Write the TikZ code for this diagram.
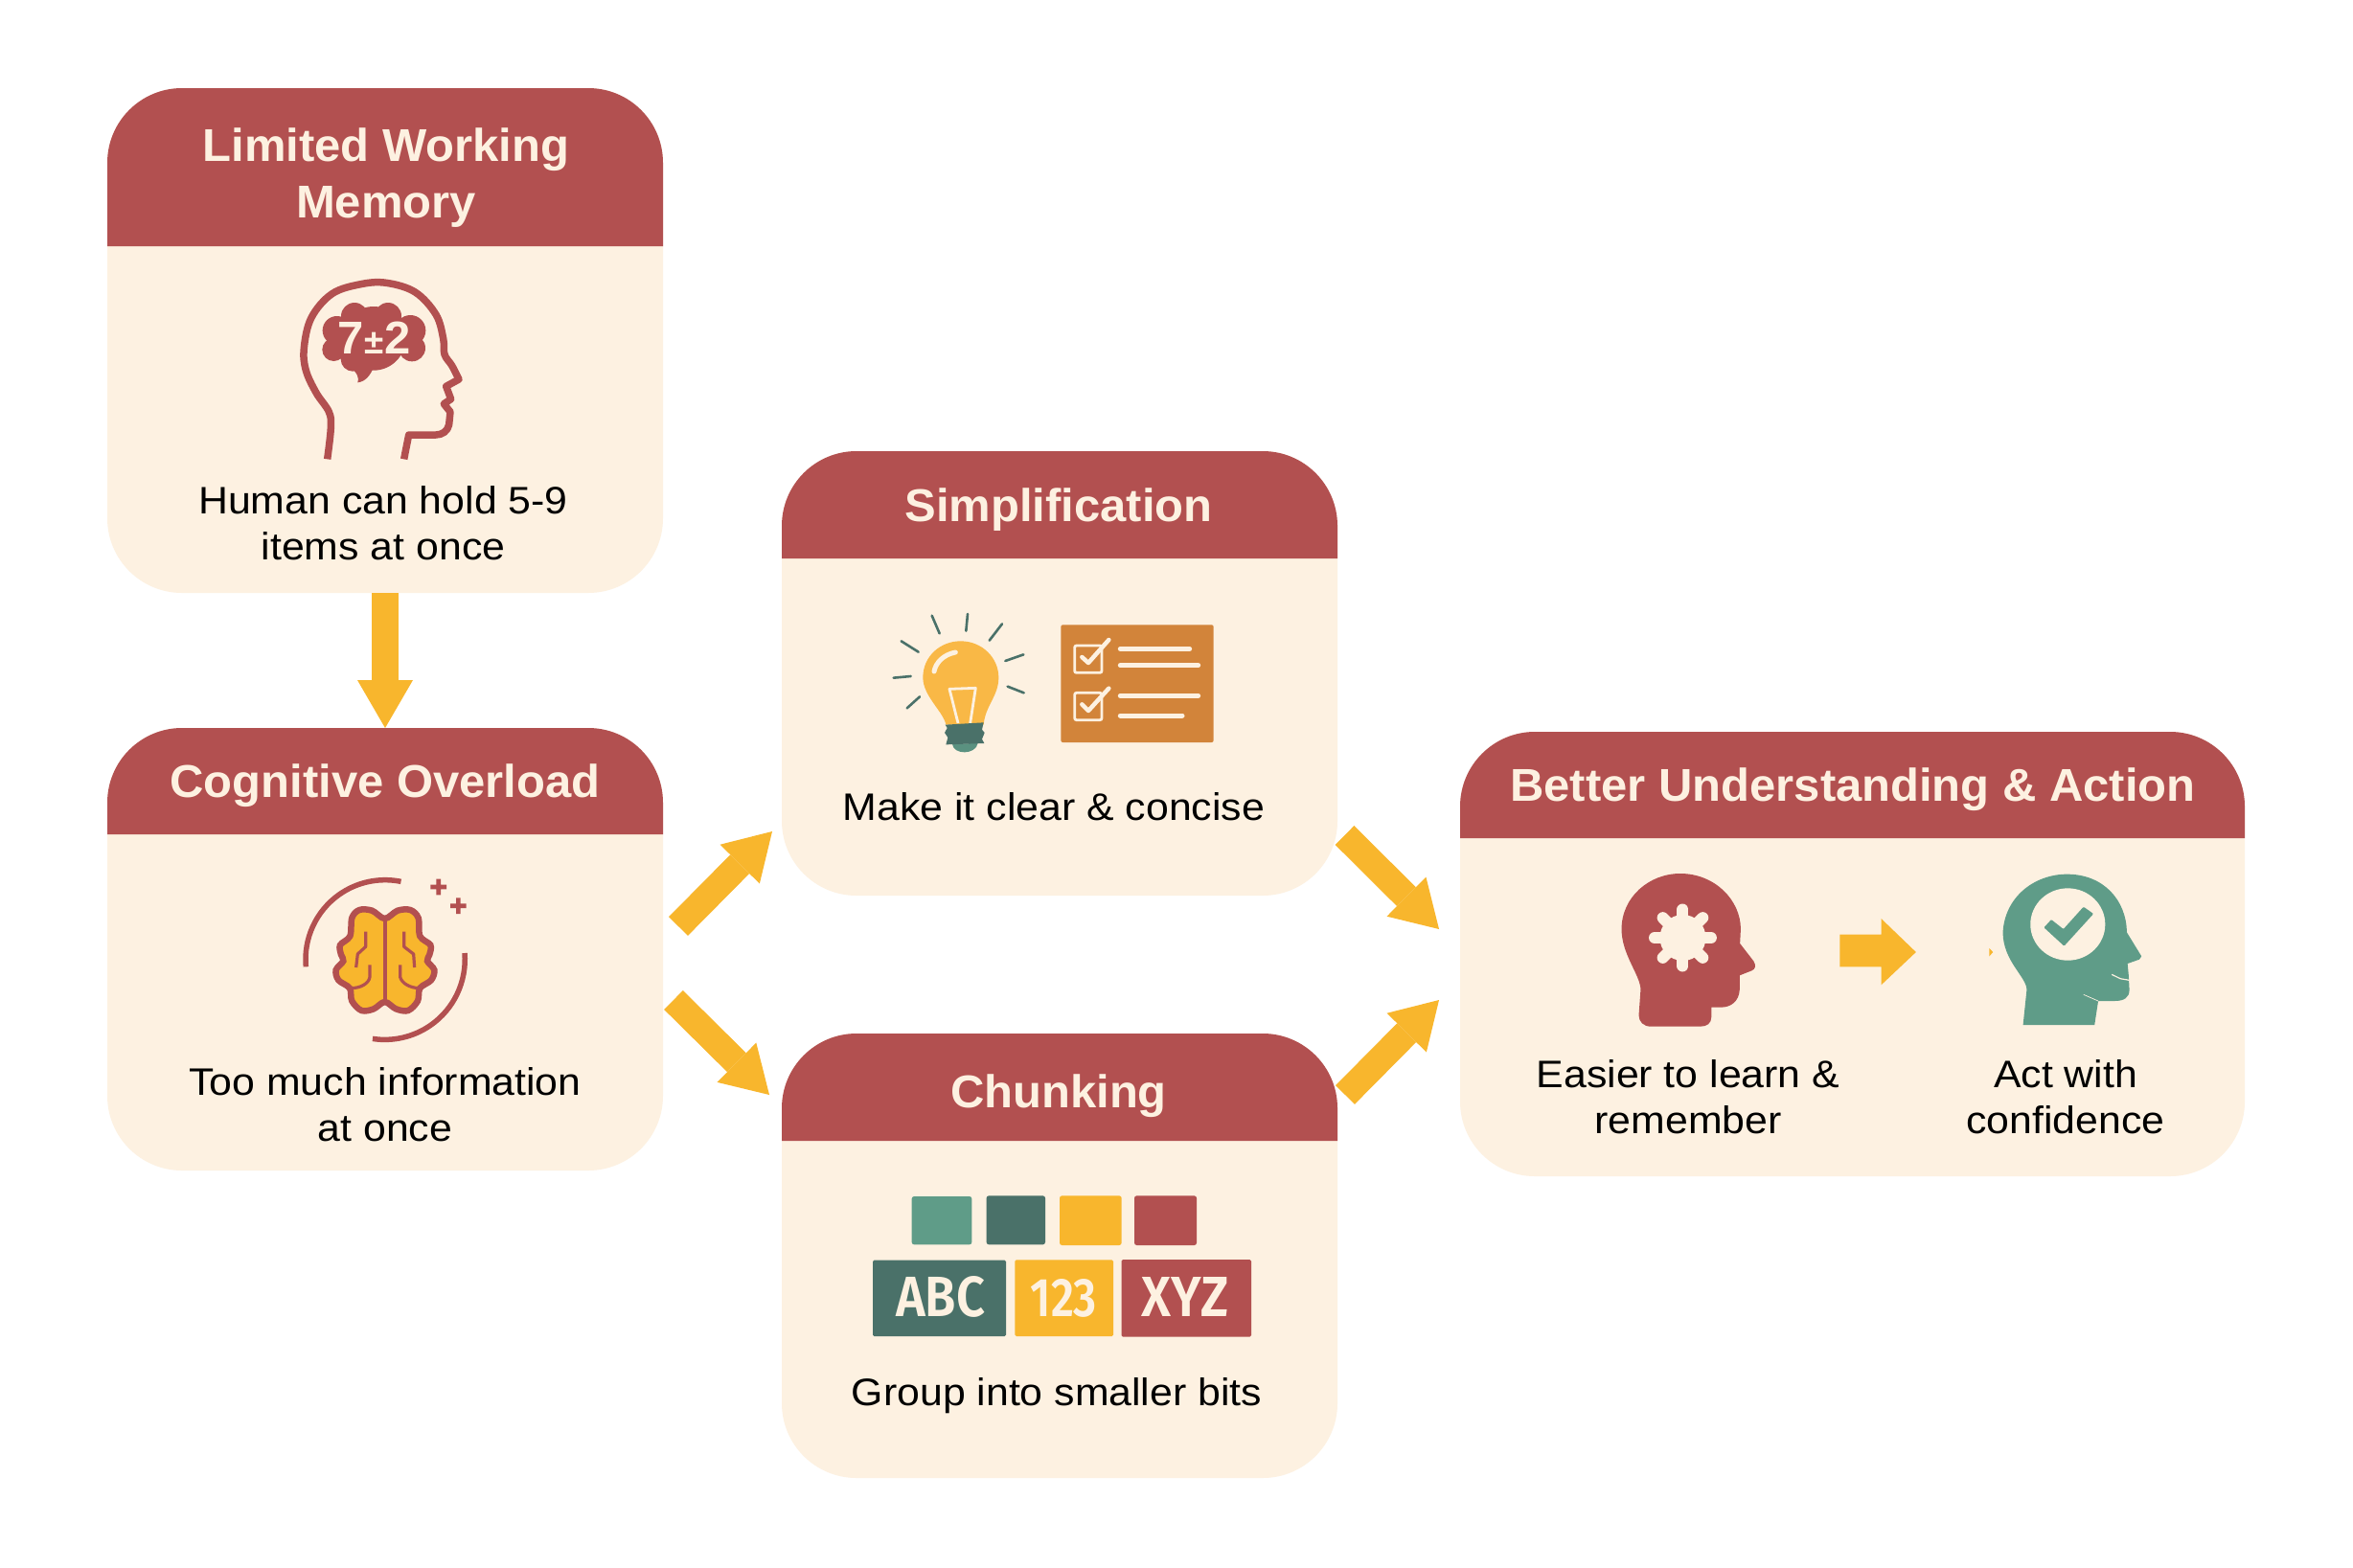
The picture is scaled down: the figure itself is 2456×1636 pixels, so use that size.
\documentclass[tikz,border=0pt]{standalone}
\usepackage{graphicx}
\usepackage{fontspec}
\setmainfont{Liberation Sans}[FakeStretch=1.07,BoldFeatures={FakeStretch=1.02}]
\newfontfamily\chunkfont{Fira Sans SemiBold}
\usetikzlibrary{arrows.meta,fit}
\definecolor{hdrred}{HTML}{B25050}
\definecolor{cream}{HTML}{FDF1E1}
\definecolor{amber}{HTML}{F8B62D}
\definecolor{teal}{HTML}{5F9C88}
\definecolor{darkteal}{HTML}{4A7169}
\definecolor{bulb}{HTML}{F9B846}
\definecolor{clipboard}{HTML}{D2843A}
\tikzset{
  x=1pt,y=-1pt,
  cardbody/.style={fill=cream,draw=none,rounded corners=78pt,inner sep=0pt,outer sep=0pt},
  hdr/.style={fill=hdrred,draw=none},
  titletext/.style={text=cream,font=\fontsize{48}{59}\selectfont\bfseries,align=center,inner sep=0pt},
  bodytext/.style={text=black,font=\fontsize{40}{48.5}\selectfont,align=center,inner sep=0pt},
  flow/.style={amber,line width=28pt,-{Triangle[length=48pt,width=58pt,line width=0pt]}},
  zoomA/.style={x=0.33333pt,y=-0.33333pt},
  zoomB/.style={x=0.38270pt,y=-0.33333pt},
}
\newcommand\card[6]{%
  \coordinate (#1nw) at (#2,#3);
  \coordinate (#1se) at (#4,#5);
  \node[cardbody,fit=(#1nw)(#1se)] (#1) {};
  \fill[hdr] (#2,#6) [rounded corners=78pt] -- (#2,#3) -- (#4,#3) [sharp corners] -- (#4,#6) -- cycle;
}
\begin{document}
\begin{tikzpicture}
\useasboundingbox (0,0) rectangle (2456,1636);
\fill[white] (0,0) rectangle (2456,1636);

\card{limit}{112}{92}{692}{619}{257}
\card{overload}{112}{760}{692}{1222}{871}
\card{simp}{816}{471}{1396}{935}{583}
\card{chunk}{816}{1079}{1396}{1543}{1191}
\card{better}{1524}{764}{2343}{1228}{875}

% connectors
\draw[flow,-{Triangle[length=50pt,width=58pt,line width=0pt]}] (limit.south) -- (overload.north);
\draw[flow] ([shift={(16,-24)}]overload.east) -- ([shift={(-10,165)}]simp.west);
\draw[flow] ([shift={(11,53)}]overload.east) -- ([shift={(-13,-168)}]chunk.west);
\draw[flow] ([shift={(7.5,169)}]simp.east) -- ([shift={(-22,-26)}]better.west);
\draw[flow] ([shift={(8,-168)}]chunk.east) -- ([shift={(-22,48)}]better.west);

% titles
\node[titletext] (tlimit) at (403,186) {Limited Working\\Memory};
\node[titletext] (toverload) at (402,820) {Cognitive Overload};
\node[titletext] (tsimp) at (1105,532) {Simplification};
\node[titletext] (tchunk) at (1105,1144) {Chunking};
\node[titletext] (tbetter) at (1934,824) {Better Understanding \& Action};

% body text
\node[bodytext] (blimit) at (400,546) {Human can hold 5-9\\items at once};
\node[bodytext] (boverload) at (402,1153) {Too much information\\at once};
\node[bodytext] (bsimp) at (1100,842) {Make it clear \& concise};
\node[bodytext] (bchunk) at (1103,1457) {Group into smaller bits};
\node[bodytext] (blearn) at (1762,1145) {Easier to learn \&\\remember};
\node[bodytext] (bact) at (2156,1145) {Act with\\confidence};

% head with 7+-2
\begin{scope}[shift={(280,270)},zoomA]
  \draw[hdrred,line width=7.5pt,line join=round]
    plot[smooth,tension=.6] coordinates {(185,628)(196,530)(190,480)(150,420)(118,350)(112,280)(135,185)(200,110)(290,80)(370,76)(460,105)(525,175)(548,250)(552,300)(575,335)(597,378)}
    -- (557,400) -- (572,440) -- (550,455) -- (570,480) -- (566,520)
    .. controls (562,540) and (545,552) .. (525,552) -- (440,552) -- (425,628);
  \fill[hdrred] (270,180) circle[radius=42] (375,180) circle[radius=42]
    (215,225) circle[radius=45] (445,225) circle[radius=48] (205,285) circle[radius=36]
    (265,315) circle[radius=38] (350,305) circle[radius=38] (450,280) circle[radius=42]
    (330,250) circle[radius=100];
  \fill[hdrred] (258,340) .. controls (280,360) and (285,375) .. (280,388) .. controls (305,385) and (320,365) .. (330,340) -- cycle;
  \node[text=cream,font=\fontsize{48}{48}\selectfont\bfseries,inner sep=0pt] (seven) at (331,248) {7\kern1pt{\fontsize{36}{36}\selectfont ±}\kern1pt 2};
\end{scope}

% brain
\begin{scope}[shift={(290,890)},zoomA]
  \draw[hdrred,line width=5.5pt] (88,358) arc[start angle=174.7,end angle=281.5,radius=249];
  \draw[hdrred,line width=5.5pt] (585,315) arc[start angle=-4.6,end angle=98.7,radius=251];
  \fill[hdrred] (478,101) rectangle (528,115) (496,83) rectangle (510,133);
  \fill[hdrred] (540,160) rectangle (590,174) (558,142) rectangle (572,192);
  \draw[hdrred,fill=amber,line width=6.5pt] plot[smooth cycle,tension=.55] coordinates {
    (335,207)(295,182)(255,180)(232,205)(226,262)(195,290)(198,320)(205,340)(182,368)(190,400)(225,425)(232,465)(262,495)(300,490)(335,468)
    (370,490)(408,495)(438,465)(445,425)(480,400)(490,368)(468,340)(475,320)(478,290)(445,262)(440,205)(415,180)(375,182)};
  \draw[hdrred,line width=4pt] (335,207) -- (335,468);
  \draw[hdrred,line width=3.2pt,line join=round] (275,248) -- (275,295) -- (250,318) -- (245,360);
  \draw[hdrred,line width=3.2pt,line join=round] (288,352) -- (288,390) .. controls (285,410) and (260,425) .. (228,425);
  \draw[hdrred,line width=3.2pt,line join=round] (395,248) -- (395,295) -- (425,318) -- (428,360);
  \draw[hdrred,line width=3.2pt,line join=round] (383,352) -- (383,390) .. controls (388,410) and (415,425) .. (445,425);
\end{scope}

% bulb and checklist
\begin{scope}[shift={(910,620)},zoomA]
  \draw[darkteal,line width=2.6pt,line cap=round]
    (188,68) -- (212,124) (300,63) -- (295,116) (408,94) -- (368,146) (475,190) -- (418,210)
    (425,290) -- (476,310) (150,322) -- (110,358) (122,258) -- (68,263) (92,148) -- (146,182);
  \fill[bulb] (232,410) .. controls (225,370) and (160,320) .. (160,262) .. controls (160,195) and (215,148) .. (278,148)
    .. controls (345,148) and (397,200) .. (397,262) .. controls (397,320) and (355,350) .. (350,410) -- cycle;
  \draw[cream,line width=5pt,line cap=round] (195,243) .. controls (200,215) and (225,190) .. (262,183);
  \draw[cream,line width=2.8pt,line join=round] (270,405) -- (243,298) -- (325,295) -- (308,405);
  \fill[teal!75!darkteal] (252,470) .. controls (255,505) and (325,505) .. (332,468) -- cycle;
  \fill[darkteal] (230,410) -- (350,403) -- (345,425) -- (353,435) -- (345,455) -- (352,468) -- (232,472) -- (238,450) -- (228,435) -- (236,420) -- cycle;
  \fill[clipboard,rounded corners=2pt] (592,97) rectangle (1070,465);
  \draw[cream,line width=2.8pt,rounded corners=2pt] (635,162) rectangle (720,247) (635,310) rectangle (720,395);
  \draw[cream,line width=4.5pt,line cap=round,line join=round] (658,198) -- (678,216) -- (742,144);
  \draw[cream,line width=4.5pt,line cap=round,line join=round] (658,346) -- (678,366) -- (742,296);
  \draw[cream,line width=5pt,line cap=round] (778,172) -- (995,172) (778,224) -- (1022,224) (778,319) -- (1022,319) (778,381) -- (972,381);
\end{scope}

% chunks
\begin{scope}[shift={(890,1230)},zoomA]
  \fill[teal,rounded corners=2.5pt] (185,57) rectangle (373,208);
  \fill[darkteal,rounded corners=2.5pt] (419,55) rectangle (603,208);
  \fill[amber,rounded corners=2.5pt] (648,55) rectangle (842,210);
  \fill[hdrred,rounded corners=2.5pt] (882,55) rectangle (1077,210);
  \fill[darkteal,rounded corners=1.5pt] (63,257) rectangle (480,495);
  \fill[amber,rounded corners=1.5pt] (508,256) rectangle (816,495);
  \fill[hdrred,rounded corners=1.5pt] (842,255) rectangle (1248,497);
  \node[text=cream,inner sep=0pt] (abc) at (275,372) {\resizebox{93pt}{42pt}{\chunkfont ABC}};
  \node[text=cream,inner sep=0pt] (onetwo) at (661,376) {\resizebox{69pt}{39pt}{\chunkfont 123}};
  \node[text=cream,inner sep=0pt] (xyz) at (1040,372) {\resizebox{91pt}{41pt}{\chunkfont XYZ}};
\end{scope}

% outcome icons
\begin{scope}[shift={(1660,890)},zoomB]
  \fill[hdrred] (132,510) -- (137,430) .. controls (137,385) and (85,320) .. (85,240)
    .. controls (85,140) and (160,66) .. (245,66) .. controls (340,66) and (410,150) .. (410,240) -- (408,285)
    -- (445,340) .. controls (453,355) and (450,365) .. (440,370) -- (407,385) -- (407,430)
    .. controls (405,465) and (385,485) .. (355,485) -- (330,485) -- (330,515)
    .. controls (330,535) and (318,545) .. (300,545) -- (165,545) .. controls (145,545) and (132,530) .. (132,510) -- cycle;
  \fill[cream] (252,267) circle[radius=24pt];
  \foreach \ang in {0,45,...,315}{
    \draw[cream,line width=12pt,line cap=round] (252,267) -- ++({77*cos(\ang)},{88.5*sin(\ang)});
  }
  \fill[amber] (680,257) -- (793,257) -- (793,207) -- (888,312) -- (793,415) -- (793,358) -- (680,358) -- cycle;
  \fill[amber] (1088,300) -- (1098,312) -- (1088,325) -- cycle;
  \fill[teal] (1180,540) -- (1190,430) .. controls (1190,390) and (1125,340) .. (1125,250)
    .. controls (1130,140) and (1210,68) .. (1300,68) .. controls (1400,68) and (1462,150) .. (1463,250)
    -- (1503,325) -- (1497,335) -- (1465,348) -- (1468,385) -- (1470,430)
    .. controls (1470,455) and (1455,465) .. (1430,465) -- (1385,465) -- (1375,540) -- cycle;
  \fill[cream] (1302,225) ellipse[x radius=102,y radius=113];
  \fill[teal,rounded corners=1pt] (1237,235) -- (1257,210) -- (1290,240) -- (1345,170) -- (1372,192) -- (1292,293) -- cycle;
  \draw[cream,line width=1.2pt] (1422,382) -- (1445,395) -- (1470,400);
  \draw[cream,line width=.7pt] (1345,445) -- (1385,465);
\end{scope}
\end{tikzpicture}
\end{document}
